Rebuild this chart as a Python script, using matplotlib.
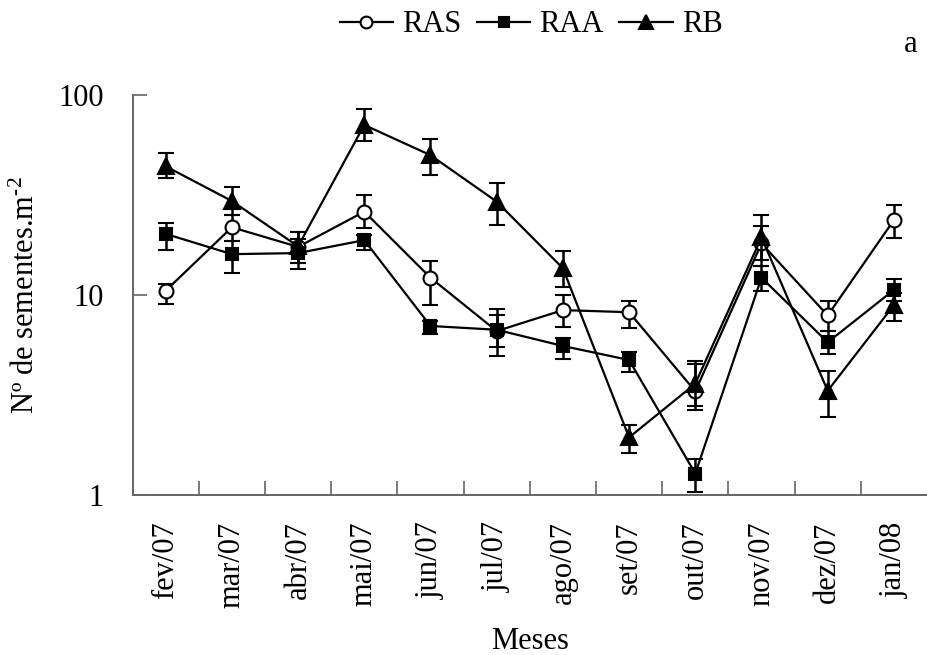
import matplotlib
matplotlib.use("Agg")
import matplotlib.pyplot as plt
from matplotlib.lines import Line2D
import numpy as np

months = ["fev/07", "mar/07", "abr/07", "mai/07", "jun/07", "jul/07",
          "ago/07", "set/07", "out/07", "nov/07", "dez/07", "jan/08"]

ras = [10.5, 21.8, 17.4, 26.1, 12.2, 6.6, 8.4, 8.2, 3.3, 18.1, 7.9, 23.7]
ras_hi = [11.4, 25.1, 20.7, 31.6, 14.8, 8.5, 10.0, 9.3, 4.5, 22.0, 9.3, 28.2]
ras_lo = [9.0, 18.7, 14.5, 21.5, 8.9, 4.95, 6.9, 6.8, 2.66, 13.9, 6.6, 19.2]

raa = [20.2, 16.0, 16.2, 18.8, 7.0, 6.7, 5.56, 4.73, 1.28, 12.2, 5.8, 10.6]
raa_hi = [22.8, 18.7, 19.0, 20.0, 7.4, 7.9, 6.1, 5.2, 1.51, 13.9, 6.6, 12.0]
raa_lo = [16.7, 12.9, 13.5, 16.8, 6.4, 5.5, 4.8, 4.1, 1.03, 10.5, 5.07, 9.3]

rb = [44.0, 29.5, 17.5, 70.8, 50.0, 29.3, 13.6, 1.94, 3.6, 19.4, 3.32, 8.9]
rb_hi = [51.5, 34.5, 20.7, 85.0, 60.0, 36.4, 16.6, 2.23, 4.68, 25.1, 4.17, 10.2]
rb_lo = [38.3, 25.1, 14.5, 59.0, 39.8, 22.4, 11.0, 1.63, 2.77, 15.0, 2.46, 7.4]

plt.rcParams['font.family'] = ['Liberation Serif', 'DejaVu Serif']
plt.rcParams['mathtext.fontset'] = 'custom'
plt.rcParams['mathtext.rm'] = 'Liberation Serif'
plt.rcParams['mathtext.it'] = 'Liberation Serif:italic'

fig = plt.figure(figsize=(9.27, 6.55), dpi=100)
ax = fig.add_axes([0.143, 0.2443, 0.857, 0.6107])

x = np.arange(len(months))
FS = 22

styles = [
    dict(marker='o', ms=10, mfc='white', label='RAS', z=3),
    dict(marker='s', ms=8, mfc='black', label='RAA', z=4),
    dict(marker='^', ms=12, mfc='black', label='RB', z=5),
]
data = [(ras, ras_lo, ras_hi), (raa, raa_lo, raa_hi), (rb, rb_lo, rb_hi)]

handles = []
for (vals, lo, hi), st in zip(data, styles):
    v = np.array(vals)
    yerr = np.vstack([v - np.array(lo), np.array(hi) - v])
    ax.errorbar(x, v, yerr=yerr, fmt='-', color='black', lw=1.6,
                marker=st['marker'], ms=st['ms'], mfc=st['mfc'], mec='black', mew=1.5,
                ecolor='black', elinewidth=1.8, capsize=6, capthick=1.8,
                zorder=st['z'])
    handles.append(Line2D([], [], color='black', lw=1.6, marker=st['marker'],
                          ms=st['ms'] * 0.85, mfc=st['mfc'], mec='black', mew=1.5,
                          label=st['label']))

ax.set_yscale('log')
ax.set_ylim(1, 100)
ax.set_xlim(-0.5, len(months) - 0.5)
ax.set_yticks([1, 10, 100])
ax.set_yticklabels(['1', '10', '100'])
ax.yaxis.set_minor_locator(matplotlib.ticker.NullLocator())

ax.set_xticks(x)
ax.set_xticklabels(months, rotation=90, fontsize=FS)
ax.set_xticks(np.arange(len(months) - 1) + 0.5, minor=True)
ax.tick_params(axis='x', which='major', length=0, pad=19)
ax.tick_params(axis='x', which='minor', direction='in', length=10, width=1.2, color='#666666')
ax.tick_params(axis='y', which='major', direction='in', length=10, width=1.2,
               color='#666666', labelsize=FS, pad=21)

for s in ['top', 'right']:
    ax.spines[s].set_visible(False)
for s in ['left', 'bottom']:
    ax.spines[s].set_color('#666666')
    ax.spines[s].set_linewidth(1.4)

ax.set_ylabel('Nº de sementes.m$^{\\text{-}2}$', fontsize=FS, labelpad=12)
ax.set_xlabel('Meses', fontsize=FS, labelpad=14)

fig.legend(handles=handles, loc='center', bbox_to_anchor=(0.573, 0.962), ncol=3,
           frameon=False, fontsize=FS, handlelength=1.75, handletextpad=0.3,
           columnspacing=0.5, borderaxespad=0)
fig.text(0.982, 0.92, 'a', fontsize=FS, ha='center', va='baseline')

fig.savefig('out.png', dpi=100)
